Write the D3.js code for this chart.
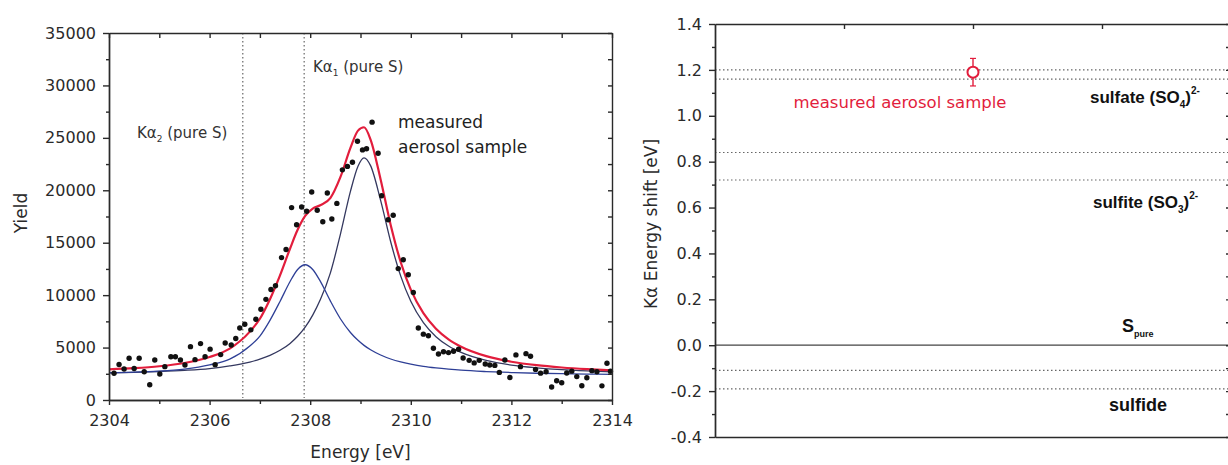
<!DOCTYPE html>
<html>
<head>
<meta charset="utf-8">
<script src="https://cdn.jsdelivr.net/npm/d3@7"></script>
<style>
	body {margin: 0; background: #fff;}
	svg {display: block;}
</style>
</head>
<body>
<svg id="chart" width="1228" height="465"></svg>
<script>
// ---- left panel: measured spectrum ----
var measEnergy = [
	2304.1, 2304.2, 2304.3, 2304.4, 2304.5, 2304.6, 2304.7, 2304.81, 2304.91, 2305.01,
	2305.11, 2305.23, 2305.32, 2305.42, 2305.51, 2305.62, 2305.71, 2305.82, 2305.91, 2306.01,
	2306.11, 2306.22, 2306.31, 2306.43, 2306.52, 2306.6, 2306.7, 2306.82, 2306.92, 2307.02,
	2307.12, 2307.22, 2307.31, 2307.43, 2307.52, 2307.63, 2307.73, 2307.83, 2307.93, 2308.03,
	2308.14, 2308.25, 2308.34, 2308.43, 2308.53, 2308.64, 2308.74, 2308.84, 2308.94, 2309.04,
	2309.12, 2309.23, 2309.35, 2309.42, 2309.55, 2309.65, 2309.75, 2309.85, 2309.95, 2310.05,
	2310.15, 2310.25, 2310.35, 2310.45, 2310.55, 2310.65, 2310.75, 2310.85, 2310.95, 2311.04,
	2311.16, 2311.26, 2311.36, 2311.48, 2311.57, 2311.67, 2311.76, 2311.87, 2311.97, 2312.09,
	2312.18, 2312.29, 2312.38, 2312.48, 2312.58, 2312.69, 2312.8, 2312.9, 2313.0, 2313.1,
	2313.2, 2313.3, 2313.4, 2313.5, 2313.6, 2313.7, 2313.8, 2313.9, 2313.97];
var measYield = [
	2550, 3380, 2950, 3980, 3000, 3980, 2700, 1460, 3820, 2480,
	3180, 4130, 4130, 3820, 3340, 5090, 3850, 5380, 4130, 4850,
	3370, 4330, 5440, 5250, 5870, 6870, 7220, 6690, 7700, 8660,
	9600, 10540, 10900, 13580, 14350, 18350, 16710, 18400, 18000, 19830,
	18100, 17000, 19740, 17260, 18750, 21950, 22280, 22680, 24670, 23850,
	23960, 26500, 23530, 19480, 17190, 17620, 12530, 13370, 11940, 10250,
	6870, 6280, 6130, 4930, 4390, 4600, 4520, 4650, 4840, 4000,
	3780, 3540, 3780, 3440, 3340, 3300, 2630, 3820, 2150, 4300,
	3180, 4420, 4170, 2920, 2560, 2700, 1240, 1840, 1650, 2580,
	2750, 2230, 1360, 2120, 2800, 2700, 1350, 3500, 2740];

// fitted curves
var fitEnergy = [2304, 2304.5, 2305, 2305.5, 2306, 2306.4, 2306.8, 2307, 2307.2, 2307.4,
	2307.6, 2307.75, 2307.9, 2308.05, 2308.2, 2308.4, 2308.6, 2308.8, 2308.95, 2309.07,
	2309.2, 2309.4, 2309.6, 2309.8, 2310, 2310.25, 2310.5, 2310.75, 2311, 2311.5,
	2312, 2312.5, 2313, 2313.5, 2314];
var fitLowPeak = [2600, 2650, 2750, 2950, 3350, 3900, 5150, 6100, 7600, 9400,
	11300, 12450, 12900, 12450, 11330, 9450, 7750, 6440, 5690, 5210,
	4790, 4290, 3910, 3630, 3420, 3210, 3060, 2940, 2840, 2710,
	2620, 2550, 2510, 2470, 2450];
var fitHighPeak = [2580, 2640, 2720, 2830, 3000, 3250, 3620, 3900, 4260, 4740,
	5400, 6080, 6950, 8100, 9550, 12100, 15800, 19900, 22300, 23100,
	22350, 19040, 15090, 11810, 9410, 7370, 6040, 5150, 4540, 3770,
	3330, 3070, 2890, 2770, 2680];
var fitTotal = [2930, 3040, 3220, 3530, 4100, 4900, 6520, 7750, 9610, 11890,
	14450, 16230, 17550, 18250, 18580, 19250, 21250, 24040, 25690, 26010,
	24840, 21030, 16700, 13140, 10520, 8280, 6800, 5790, 5080, 4180,
	3650, 3320, 3100, 2940, 2820];

var pureSLines = [2306.66, 2307.88];
var yieldTicks = [0, 5000, 10000, 15000, 20000, 25000, 30000, 35000];
var yieldMinor = [2500, 7500, 12500, 17500, 22500, 27500, 32500];
var energyTicks = [2304, 2306, 2308, 2310, 2312, 2314];
var energyMinor = [2305, 2307, 2309, 2311, 2313];

// ---- right panel: energy shifts ----
var shiftTicks = [-0.4, -0.2, 0.0, 0.2, 0.4, 0.6, 0.8, 1.0, 1.2, 1.4];
var shiftMinor = [-0.3, -0.1, 0.1, 0.3, 0.5, 0.7, 0.9, 1.1, 1.3];
var slotTicks = [1, 2, 3];
var refLevels = [1.20, 1.16, 0.84, 0.72, -0.11, -0.19];
var pureLevel = 0.0;
var sampleSlot = 2, sampleShift = 1.19, sampleErr = 0.06;

var svg = d3.select("#chart"),
	regular = "'DejaVu Sans', sans-serif",
	bold = "'Liberation Sans', Arial, sans-serif",
	ink = "#2a2a2a",
	red = "#e21d3c";

function translate(x, y)
{
	return "translate(" + x + "," + y + ")";
}

function styleAxis(g, size)
{
	g.selectAll("path, line").attr("stroke", ink).attr("stroke-width", 1.4);
	g.selectAll("text")
		.attr("font-family", regular)
		.attr("font-size", size || 16)
		.attr("fill", ink);
	return g;
}

// ========== left panel ==========
var xE = d3.scaleLinear().domain([2304, 2314]).range([109, 612]),
	yY = d3.scaleLinear().domain([0, 35000]).range([400, 33]);

var gl = svg.append("g").attr("class", "spectrum");

// Ka reference lines
gl.selectAll(".kaLine")
	.data(pureSLines)
	.enter().append("line")
		.attr("class", "kaLine")
		.attr("x1", function(d){return xE(d);})
		.attr("x2", function(d){return xE(d);})
		.attr("y1", yY(35000))
		.attr("y2", yY(200))
		.attr("stroke", "#666")
		.attr("stroke-width", 1.2)
		.attr("stroke-dasharray", "1.5,2.5");

var line = function(ys)
{
	return d3.line()
		.x(function(d, i){return xE(fitEnergy[i]);})
		.y(function(d){return yY(d);})
		.curve(d3.curveMonotoneX)(ys);
};

gl.append("path").attr("d", line(fitHighPeak))
	.attr("fill", "none").attr("stroke", "#34385f").attr("stroke-width", 1.3);
gl.append("path").attr("d", line(fitLowPeak))
	.attr("fill", "none").attr("stroke", "#2e3f96").attr("stroke-width", 1.3);
gl.append("path").attr("d", line(fitTotal))
	.attr("fill", "none").attr("stroke", red).attr("stroke-width", 2.2);

gl.selectAll(".pt")
	.data(measYield)
	.enter().append("circle")
		.attr("class", "pt")
		.attr("cx", function(d, i){return xE(measEnergy[i]);})
		.attr("cy", function(d){return yY(d);})
		.attr("r", 2.7)
		.attr("fill", "#111");

// axes
styleAxis(gl.append("g").attr("transform", translate(xE(2304), 0))
	.call(d3.axisLeft(yY).tickValues(yieldTicks).tickSize(6).tickSizeOuter(0).tickPadding(7).tickFormat(d3.format("d"))));
styleAxis(gl.append("g").attr("transform", translate(xE(2304), 0))
	.call(d3.axisLeft(yY).tickValues(yieldMinor).tickSize(3).tickSizeOuter(0).tickFormat("")));
styleAxis(gl.append("g").attr("transform", translate(0, yY(0)))
	.call(d3.axisBottom(xE).tickValues(energyTicks).tickSize(5).tickSizeOuter(0).tickPadding(10).tickFormat(d3.format("d"))));
styleAxis(gl.append("g").attr("transform", translate(0, yY(0)))
	.call(d3.axisBottom(xE).tickValues(energyMinor).tickSize(4).tickSizeOuter(0).tickFormat("")));
styleAxis(gl.append("g").attr("transform", translate(0, yY(35000)))
	.call(d3.axisTop(xE).tickValues(energyTicks.concat(energyMinor)).tickSize(-5).tickSizeOuter(0).tickFormat("")));
styleAxis(gl.append("g").attr("transform", translate(xE(2314), 0))
	.call(d3.axisRight(yY).tickValues(yieldTicks.concat(yieldMinor)).tickSize(-4).tickSizeOuter(0).tickFormat("")));

gl.append("text")
	.attr("transform", translate(27, 213) + " rotate(-90)")
	.attr("text-anchor", "middle")
	.attr("font-family", regular).attr("font-size", 17).attr("fill", ink)
	.text("Yield");
gl.append("text")
	.attr("x", (xE(2304) + xE(2314)) / 2).attr("y", 458)
	.attr("text-anchor", "middle")
	.attr("font-family", regular).attr("font-size", 17).attr("fill", ink)
	.text("Energy [eV]");

function kaLabel(x, y, sub)
{
	var t = gl.append("text")
		.attr("x", x).attr("y", y)
		.attr("font-family", regular).attr("font-size", 15).attr("fill", "#333");
	t.append("tspan").text("K\u03b1");
	t.append("tspan").attr("font-size", 9).attr("dy", 4).text(sub);
	t.append("tspan").attr("dy", -4).text(" (pure S)");
}
kaLabel(137, 138, "2");
kaLabel(313, 72, "1");

gl.append("text")
	.attr("x", 398).attr("y", 128)
	.attr("font-family", regular).attr("font-size", 17).attr("fill", "#222")
	.text("measured");
gl.append("text")
	.attr("x", 398).attr("y", 153)
	.attr("font-family", regular).attr("font-size", 17).attr("fill", "#222")
	.text("aerosol sample");

// ========== right panel ==========
var xS = d3.scaleLinear().domain([0, 4]).range([715, 1231]),
	yS = d3.scaleLinear().domain([-0.4, 1.4]).range([437, 24]);

var gr = svg.append("g").attr("class", "shift");

gr.selectAll(".ref")
	.data(refLevels)
	.enter().append("line")
		.attr("class", "ref")
		.attr("x1", xS(0)).attr("x2", xS(4))
		.attr("y1", function(d){return yS(d);})
		.attr("y2", function(d){return yS(d);})
		.attr("stroke", "#666")
		.attr("stroke-width", 1.2)
		.attr("stroke-dasharray", "1.5,2.5");

gr.append("line")
	.attr("x1", xS(0)).attr("x2", xS(4))
	.attr("y1", yS(pureLevel)).attr("y2", yS(pureLevel))
	.attr("stroke", "#444").attr("stroke-width", 1.2);

styleAxis(gr.append("g").attr("transform", translate(xS(0), 0))
	.call(d3.axisLeft(yS).tickValues(shiftTicks).tickSize(6).tickSizeOuter(0).tickPadding(7)
		.tickFormat(function(d){return d.toFixed(1);})));
styleAxis(gr.append("g").attr("transform", translate(xS(0), 0))
	.call(d3.axisLeft(yS).tickValues(shiftMinor).tickSize(3).tickSizeOuter(0).tickFormat("")));
styleAxis(gr.append("g").attr("transform", translate(0, yS(1.4)))
	.call(d3.axisTop(xS).tickValues(slotTicks).tickSize(-5).tickSizeOuter(0).tickFormat("")));
styleAxis(gr.append("g").attr("transform", translate(0, yS(-0.4)))
	.call(d3.axisBottom(xS).tickValues([]).tickSizeOuter(0)));
styleAxis(gr.append("g").attr("transform", translate(xS(4), 0))
	.call(d3.axisRight(yS).tickValues(shiftTicks.concat(shiftMinor)).tickSize(-5).tickSizeOuter(0).tickFormat("")));

// measured sample with error bar
var sx = xS(sampleSlot);
gr.append("line")
	.attr("x1", sx).attr("x2", sx)
	.attr("y1", yS(sampleShift + sampleErr)).attr("y2", yS(sampleShift - sampleErr))
	.attr("stroke", red).attr("stroke-width", 1.4);
[sampleShift + sampleErr, sampleShift - sampleErr].forEach(function(v)
{
	gr.append("line")
		.attr("x1", sx - 3).attr("x2", sx + 3)
		.attr("y1", yS(v)).attr("y2", yS(v))
		.attr("stroke", red).attr("stroke-width", 1.2);
});
gr.append("circle")
	.attr("cx", sx).attr("cy", yS(sampleShift))
	.attr("r", 5.5)
	.attr("fill", "#fff").attr("stroke", red).attr("stroke-width", 2);

gr.append("text")
	.attr("x", 900).attr("y", 108)
	.attr("text-anchor", "middle")
	.attr("font-family", regular).attr("font-size", 16.5).attr("fill", red)
	.text("measured aerosol sample");

gr.append("text")
	.attr("transform", translate(657, 224) + " rotate(-90)")
	.attr("text-anchor", "middle")
	.attr("font-family", regular).attr("font-size", 17).attr("fill", ink)
	.text("K\u03b1 Energy shift [eV]");

function ionLabel(x, y, name, sub)
{
	var t = gr.append("text")
		.attr("x", x).attr("y", y)
		.attr("font-family", bold).attr("font-weight", "bold").attr("font-size", 17).attr("fill", "#111");
	t.append("tspan").text(name + " (SO");
	t.append("tspan").attr("font-size", 10).attr("dy", 5).text(sub);
	t.append("tspan").attr("dy", -5).text(")");
	t.append("tspan").attr("font-size", 10).attr("dy", -9).text("2-");
}
ionLabel(1090, 103, "sulfate", "4");
ionLabel(1093, 208, "sulfite", "3");

var sp = gr.append("text")
	.attr("x", 1122).attr("y", 332)
	.attr("font-family", bold).attr("font-weight", "bold").attr("font-size", 18).attr("fill", "#111");
sp.append("tspan").text("S");
sp.append("tspan").attr("font-size", 9).attr("dy", 5).text("pure");

gr.append("text")
	.attr("x", 1109).attr("y", 411)
	.attr("font-family", bold).attr("font-weight", "bold").attr("font-size", 18).attr("fill", "#111")
	.text("sulfide");
</script>
</body>
</html>
